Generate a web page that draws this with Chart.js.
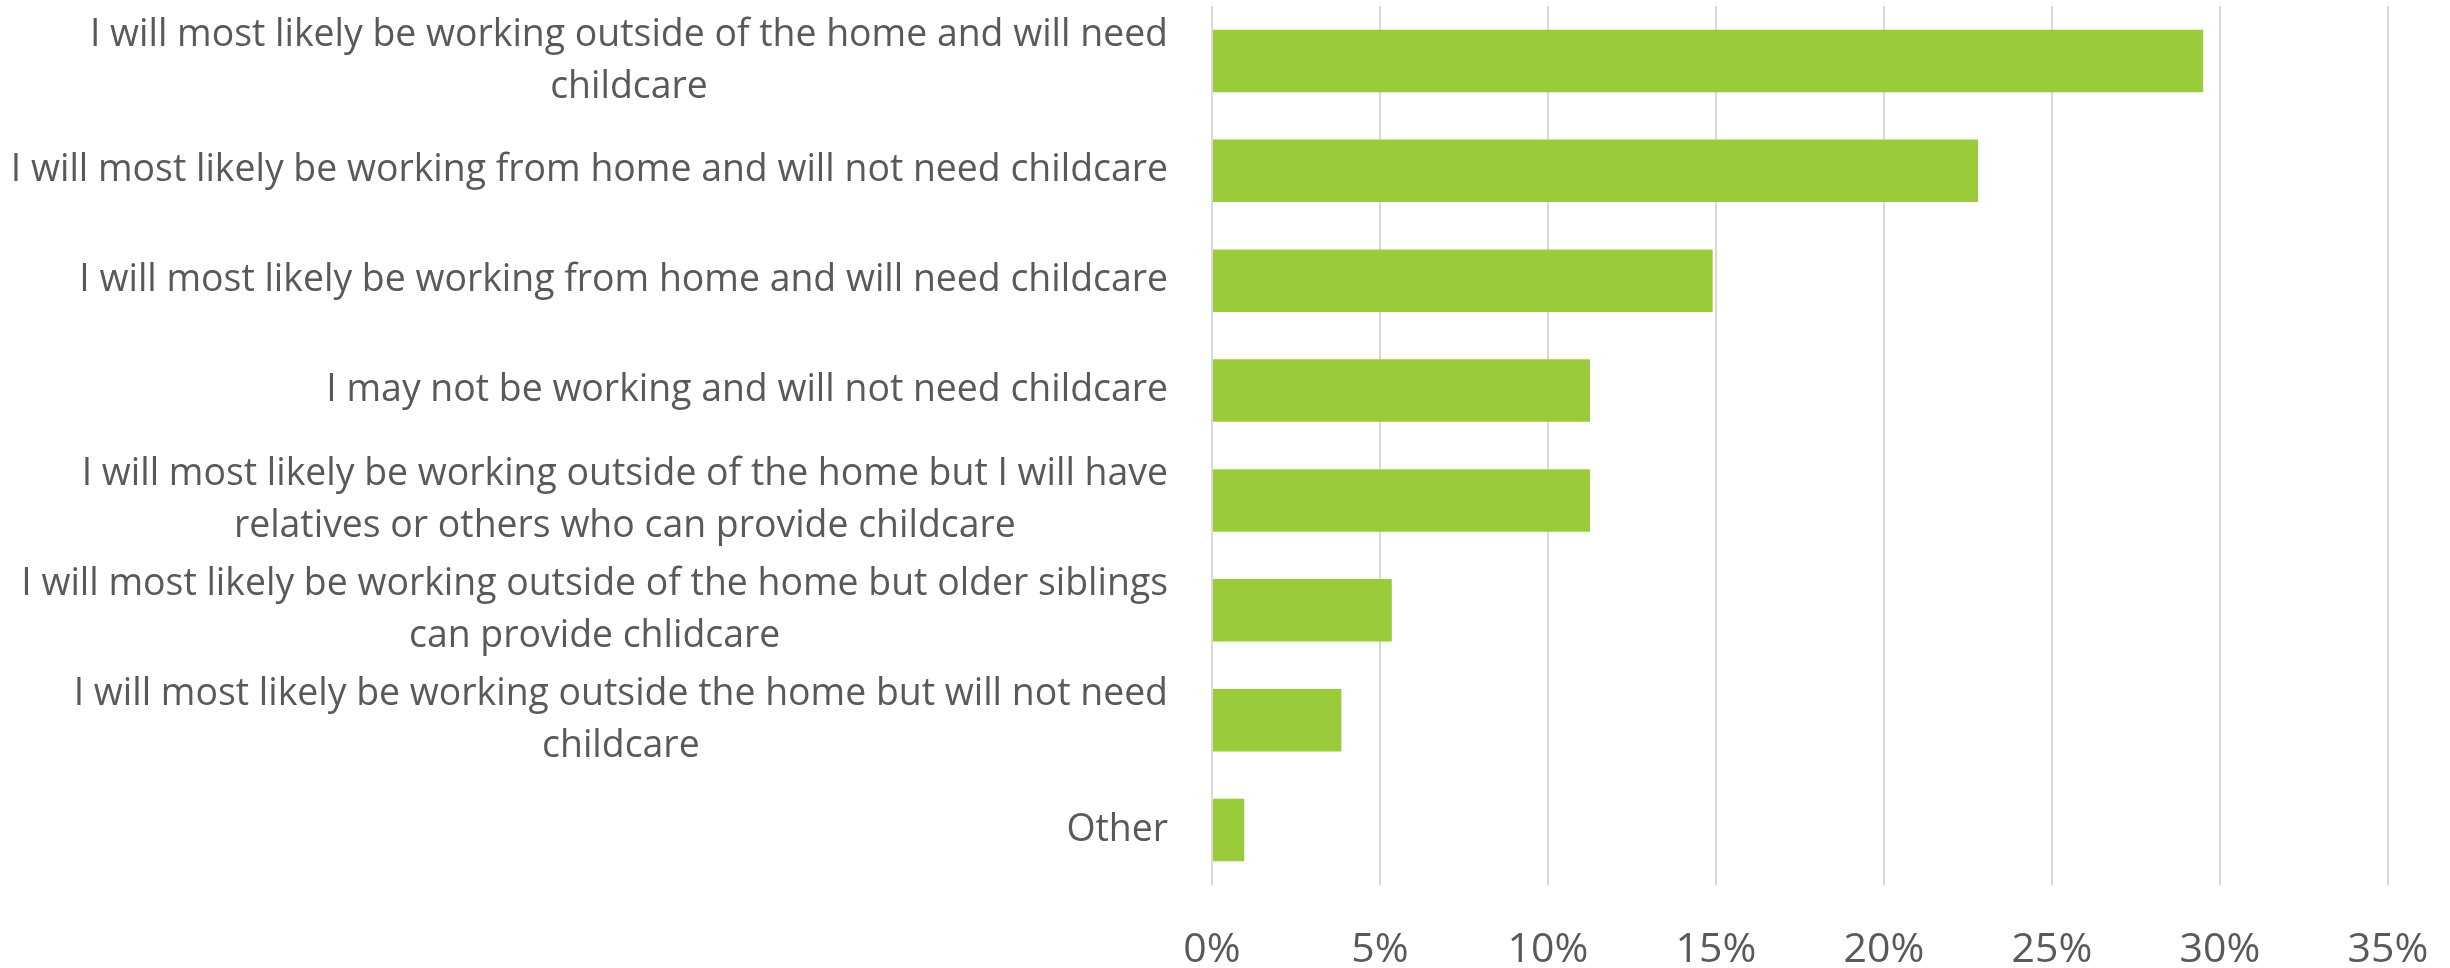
<!DOCTYPE html>
<html>
<head>
<meta charset="utf-8">
<script src="https://cdn.jsdelivr.net/npm/chart.js@4"></script>
<style>
  html, body { margin: 0; padding: 0; background: #fff; }
  #wrap { width: 2450px; height: 968px; }
</style>
</head>
<body>
<div id="wrap"><canvas id="chart" width="2450" height="968"></canvas></div>
<script>
const answers = [
  ["I will most likely be working outside of the home and will need", "childcare"],
  ["I will most likely be working from home and will not need childcare"],
  ["I will most likely be working from home and will need childcare"],
  ["I may not be working and will not need childcare"],
  ["I will most likely be working outside of the home but I will have", "relatives or others who can provide childcare"],
  ["I will most likely be working outside of the home but older siblings", "can provide chlidcare"],
  ["I will most likely be working outside the home but will not need", "childcare"],
  ["Other"]
];
const shares = [29.5, 22.8, 14.9, 11.25, 11.25, 5.35, 3.85, 0.96];
const tickSteps = [0, 5, 10, 15, 20, 25, 30, 35];

const textColor = "#595959";
const labelFont = "37.4px 'Open Sans'";

// draw the wrapped category labels: block right-aligned, lines centred in the block
const catLabels = {
  id: "catLabels",
  afterDraw(chart) {
    const ctx = chart.ctx;
    const y = chart.scales.y;
    const right = chart.chartArea.left - 44;
    const lineH = 52;
    ctx.save();
    ctx.font = labelFont;
    ctx.fillStyle = textColor;
    ctx.textAlign = "center";
    ctx.textBaseline = "middle";
    answers.forEach((lines, i) => {
      const widest = Math.max(...lines.map(l => ctx.measureText(l).width));
      const cx = right - widest / 2;
      const cy = y.getPixelForTick(i);
      lines.forEach((l, k) => {
        ctx.fillText(l, cx, cy + (k - (lines.length - 1) / 2) * lineH);
      });
    });
    ctx.restore();
  }
};

new Chart(document.getElementById("chart"), {
  type: "bar",
  data: {
    labels: answers,
    datasets: [{
      data: shares,
      backgroundColor: "#9ACB3A",
      borderWidth: 0,
      categoryPercentage: 1,
      barPercentage: 0.568
    }]
  },
  options: {
    indexAxis: "y",
    responsive: false,
    animation: false,
    layout: { padding: { top: 6, right: 62, left: 0, bottom: 0 } },
    plugins: { legend: { display: false }, tooltip: { enabled: false } },
    scales: {
      x: {
        min: 0,
        max: 35,
        afterBuildTicks: s => { s.ticks = tickSteps.map(v => ({ value: v })); },
        afterFit: s => {
          s.height = 83;
          s.paddingLeft = 0;
          s.paddingRight = 0;
        },
        grid: { color: "#D9D9D9", lineWidth: 2, drawTicks: false },
        border: { display: false },
        ticks: {
          padding: 41,
          color: textColor,
          font: { family: "'Open Sans'", size: 41 },
          callback: v => v + "%"
        }
      },
      y: {
        afterFit: s => { s.width = 1212; },
        grid: { display: false },
        border: { display: false },
        ticks: { display: false }
      }
    }
  },
  plugins: [catLabels]
});
</script>
</body>
</html>
